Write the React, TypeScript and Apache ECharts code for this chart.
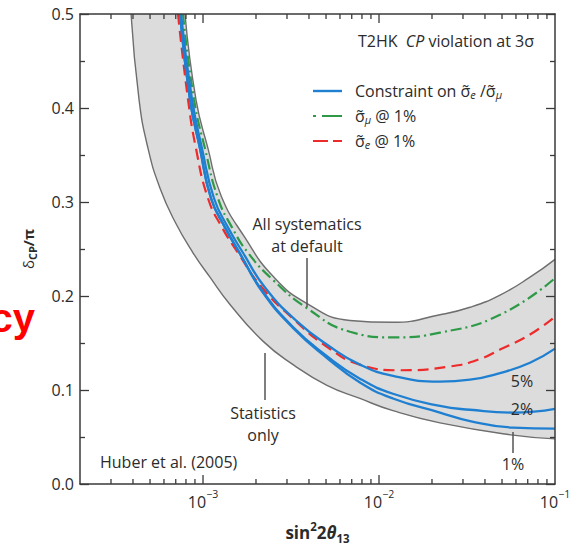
import React, { useEffect, useRef } from 'react';
import * as echarts from 'echarts';

const FONT = '"Open Sans", "Noto Sans", sans-serif';
const TXT = '#2b2b2b';
const AX = '#3a3a3a';
const BLUE = '#1f7fd0';
const GREEN = '#2e9a48';
const RED = '#ee2b2b';
const SMOOTH = 0.5;

// "Statistics only" (lower edge of gray band)
const statsX = [3.9e-4, 4.33e-4, 4.87e-4, 5.69e-4, 6.93e-4, 8.77e-4, 1.095e-3, 1.423e-3, 2.19e-3, 3.25e-3, 5.06e-3, 7.79e-3, 1.2e-2, 2.22e-2, 5.77e-2, 0.1];
const statsY = [0.5, 0.409, 0.357, 0.315, 0.279, 0.246, 0.220, 0.191, 0.152, 0.127, 0.105, 0.091, 0.078, 0.065, 0.052, 0.048];

// "All systematics at default" (upper edge of gray band)
const sysX = [7.9e-4, 9.12e-4, 1.067e-3, 1.265e-3, 1.732e-3, 2.5e-3, 3.9e-3, 6.84e-3, 1.2e-2, 2.22e-2, 3.29e-2, 4.87e-2, 7.21e-2, 0.1];
const sysY = [0.5, 0.409, 0.357, 0.307, 0.262, 0.221, 0.192, 0.174, 0.172, 0.180, 0.188, 0.201, 0.220, 0.239];

// sigma_mu @ 1%
const greenX = [7.69e-4, 8.89e-4, 1.026e-3, 1.216e-3, 1.461e-3, 1.801e-3, 2.5e-3, 3.9e-3, 6.84e-3, 1.2e-2, 2.22e-2, 4.87e-2, 0.1];
const greenY = [0.5, 0.409, 0.357, 0.304, 0.273, 0.246, 0.217, 0.187, 0.162, 0.156, 0.161, 0.180, 0.219];

// sigma_e @ 1%
const redX = [7.21e-4, 8.22e-4, 9.12e-4, 1.067e-3, 1.282e-3, 1.58e-3, 2.163e-3, 3.245e-3, 5.063e-3, 7.79e-3, 1.316e-2, 2.531e-2, 3.748e-2, 4.868e-2, 7.21e-2, 0.1];
const redY = [0.5, 0.409, 0.357, 0.304, 0.273, 0.246, 0.209, 0.176, 0.146, 0.127, 0.121, 0.125, 0.133, 0.143, 0.159, 0.178];

// Constraint on sigma_e/sigma_mu: 5%, 2%, 1%
const b5X = [7.5e-4, 8.66e-4, 9.87e-4, 1.154e-3, 1.386e-3, 1.687e-3, 2.25e-3, 3.42e-3, 5.27e-3, 7.79e-3, 1.2e-2, 2.22e-2, 3.29e-2, 4.87e-2, 7.21e-2, 0.1];
const b5Y = [0.5, 0.409, 0.357, 0.304, 0.273, 0.246, 0.209, 0.173, 0.146, 0.127, 0.115, 0.109, 0.111, 0.118, 0.129, 0.144];

const b2X = [7.4e-4, 8.43e-4, 9.61e-4, 1.11e-3, 1.333e-3, 1.622e-3, 2.163e-3, 3.245e-3, 5.063e-3, 7.79e-3, 1.2e-2, 2.22e-2, 3.29e-2, 5.77e-2, 0.1];
const b2Y = [0.5, 0.409, 0.357, 0.304, 0.273, 0.245, 0.206, 0.167, 0.136, 0.112, 0.096, 0.083, 0.079, 0.076, 0.080];

const b1X = [7.4e-4, 8.43e-4, 9.61e-4, 1.11e-3, 1.333e-3, 1.622e-3, 2.163e-3, 3.245e-3, 5.063e-3, 7.79e-3, 1.2e-2, 2.22e-2, 3.29e-2, 5.77e-2, 0.1];
const b1Y = [0.5, 0.409, 0.357, 0.304, 0.273, 0.245, 0.205, 0.166, 0.134, 0.108, 0.091, 0.076, 0.067, 0.060, 0.059];

// axis ticks
const xMinorTicks = [3e-4, 4e-4, 5e-4, 6e-4, 7e-4, 8e-4, 9e-4, 2e-3, 3e-3, 4e-3, 5e-3, 6e-3, 7e-3, 8e-3, 9e-3, 2e-2, 3e-2, 4e-2, 5e-2, 6e-2, 7e-2, 8e-2, 9e-2];
const xMajorTicks = [1e-3, 1e-2];
const xMin = 2e-4;
const xMax = 0.1;
const yMin = 0;
const yMax = 0.5;
const yStep = 0.1;

const zip = (xs: number[], ys: number[]) => xs.map((x, i) => [x, ys[i]]);

const tickSeries = (vals: number[], len: number) => ({
  type: 'custom',
  silent: true,
  z: 12,
  clip: false,
  data: vals.map((v) => [v, 0]),
  renderItem: (_p: any, api: any) => {
    const v = api.value(0);
    const b = api.coord([v, yMin]);
    const t = api.coord([v, yMax]);
    const style = { stroke: AX, lineWidth: 1.3 };
    return {
      type: 'group',
      children: [
        { type: 'line', shape: { x1: b[0], y1: b[1], x2: b[0], y2: b[1] - len }, style },
        { type: 'line', shape: { x1: t[0], y1: t[1], x2: t[0], y2: t[1] + len }, style },
      ],
    };
  },
});

const curve = (name: string, xs: number[], ys: number[], color: string, width: number, type: any) => ({
  type: 'line',
  name,
  data: zip(xs, ys),
  smooth: SMOOTH,
  symbol: 'none',
  showSymbol: false,
  silent: true,
  z: 5,
  lineStyle: { color, width, type, cap: 'butt' },
  emphasis: { disabled: true },
});

const supRich = {
  b: { fontFamily: FONT, fontSize: 16, lineHeight: 22, verticalAlign: 'bottom', color: TXT },
  sup: { fontFamily: FONT, fontSize: 10.5, lineHeight: 12, verticalAlign: 'top', color: TXT },
};

const textRich = {
  s: { fontFamily: FONT, fontSize: 16, lineHeight: 18, fill: TXT, color: TXT },
  sub: { fontFamily: FONT, fontSize: 11, fontStyle: 'italic', lineHeight: 11, verticalAlign: 'bottom', fill: TXT, color: TXT },
  i: { fontFamily: FONT, fontSize: 16, fontStyle: 'italic', lineHeight: 18, fill: TXT, color: TXT },
};

const label = (x: number, y: number, text: string, align = 'center', size = 16, lh = 18) => ({
  type: 'text',
  x,
  y,
  z: 30,
  silent: true,
  style: {
    text,
    fill: TXT,
    font: `${size}px ${FONT}`,
    align,
    verticalAlign: 'middle',
    lineHeight: lh,
    rich: textRich,
  },
});

const vline = (x: number, y1: number, y2: number) => ({
  type: 'line',
  z: 30,
  silent: true,
  shape: { x1: x, y1, x2: x, y2 },
  style: { stroke: '#555', lineWidth: 1.5 },
});

export default function App() {
  const ref = useRef<HTMLDivElement>(null);
  useEffect(() => {
    const chart = echarts.init(ref.current!, null, { renderer: 'svg' });
    const option: any = {
      animation: false,
      backgroundColor: '#ffffff',
      textStyle: { fontFamily: FONT },
      grid: { left: 80, right: 23, top: 14, bottom: 60, show: false },
      xAxis: [
        {
          type: 'log',
          logBase: 10,
          min: xMin,
          max: xMax,
          z: 10,
          axisLine: { show: true, onZero: false, lineStyle: { color: AX, width: 1.5 } },
          axisTick: { show: false },
          splitLine: { show: false },
          axisLabel: {
            margin: 4,
            showMinLabel: true,
            showMaxLabel: true,
            formatter: (v: number) => {
              const e = Math.log10(v);
              const r = Math.round(e);
              if (Math.abs(e - r) > 1e-6) return '';
              return `{b|10}{sup|${r < 0 ? '−' + -r : r}}`;
            },
            rich: supRich,
          },
          name: '{b|sin}{sup|2}{b|2}{i|θ}{sub|13}',
          nameLocation: 'middle',
          nameGap: 36,
          nameTextStyle: {
            rich: {
              b: { fontFamily: FONT, fontSize: 17, fontWeight: 'bold', lineHeight: 24, verticalAlign: 'middle', color: TXT },
              i: { fontFamily: FONT, fontSize: 17, fontWeight: 'bold', fontStyle: 'italic', lineHeight: 24, verticalAlign: 'middle', color: TXT },
              sup: { fontFamily: FONT, fontSize: 11.5, fontWeight: 'bold', lineHeight: 14, verticalAlign: 'top', color: TXT },
              sub: { fontFamily: FONT, fontSize: 11.5, fontWeight: 'bold', lineHeight: 14, verticalAlign: 'bottom', color: TXT },
            },
          },
        },
        {
          type: 'log',
          logBase: 10,
          min: xMin,
          max: xMax,
          position: 'top',
          z: 10,
          axisLine: { show: true, onZero: false, lineStyle: { color: AX, width: 1.5 } },
          axisTick: { show: false },
          axisLabel: { show: false },
          splitLine: { show: false },
        },
      ],
      yAxis: [
        {
          type: 'value',
          min: yMin,
          max: yMax,
          interval: yStep,
          z: 10,
          axisLine: { show: true, onZero: false, lineStyle: { color: AX, width: 1.5 } },
          axisTick: { show: true, inside: true, length: 9, lineStyle: { color: AX, width: 1.3 } },
          minorTick: { show: true, splitNumber: 2, length: 5, lineStyle: { color: AX, width: 1.3 } },
          splitLine: { show: false },
          axisLabel: {
            margin: 6,
            color: TXT,
            fontSize: 16,
            fontFamily: FONT,
            formatter: (v: number) => v.toFixed(1),
          },
          name: '{d|δ}{sub|CP}{b|/π}',
          nameLocation: 'middle',
          nameRotate: 90,
          nameGap: 42,
          nameTextStyle: {
            rich: {
              d: { fontFamily: FONT, fontSize: 15, lineHeight: 20, verticalAlign: 'middle', color: TXT },
              b: { fontFamily: FONT, fontSize: 15, fontWeight: 'bold', lineHeight: 20, verticalAlign: 'middle', color: TXT },
              sub: { fontFamily: FONT, fontSize: 11, fontWeight: 'bold', lineHeight: 12, verticalAlign: 'bottom', color: TXT },
            },
          },
        },
        {
          type: 'value',
          min: yMin,
          max: yMax,
          interval: yStep,
          position: 'right',
          z: 10,
          axisLine: { show: true, onZero: false, lineStyle: { color: AX, width: 1.5 } },
          axisTick: { show: true, inside: true, length: 9, lineStyle: { color: AX, width: 1.3 } },
          minorTick: { show: true, splitNumber: 2, length: 5, lineStyle: { color: AX, width: 1.3 } },
          splitLine: { show: false },
          axisLabel: { show: false },
        },
      ],
      series: [
        {
          type: 'line',
          name: 'Statistics only',
          data: zip(statsX, statsY),
          smooth: SMOOTH,
          symbol: 'none',
          silent: true,
          z: 2,
          lineStyle: { color: '#6e6e6e', width: 1.4 },
          areaStyle: { color: '#dcdcdc', opacity: 1, origin: 'end' },
        },
        {
          type: 'line',
          name: 'All systematics at default',
          data: zip(sysX, sysY),
          smooth: SMOOTH,
          symbol: 'none',
          silent: true,
          z: 3,
          lineStyle: { color: '#6e6e6e', width: 1.4 },
          areaStyle: { color: '#ffffff', opacity: 1, origin: 'end' },
        },
        curve('σμ @ 1%', greenX, greenY, GREEN, 2.2, [11, 4, 2, 4]),
        curve('σe @ 1%', redX, redY, RED, 2.2, [11, 6]),
        curve('Constraint 5%', b5X, b5Y, BLUE, 2.3, 'solid'),
        curve('Constraint 2%', b2X, b2Y, BLUE, 2.3, 'solid'),
        curve('Constraint 1%', b1X, b1Y, BLUE, 2.3, 'solid'),
        tickSeries(xMinorTicks, 5),
        tickSeries(xMajorTicks, 9),
      ],
      graphic: [
        {
          type: 'text',
          x: 35,
          y: 318,
          z: 30,
          silent: true,
          style: { text: 'cy', fill: '#ff0000', font: 'bold 40px "Liberation Sans", Arial, sans-serif', align: 'right', verticalAlign: 'middle' },
        },
        {
          type: 'text',
          x: 446,
          y: 41,
          z: 30,
          silent: true,
          style: {
            text: 'T2HK  {i|CP} violation at 3σ',
            fill: TXT,
            font: `16px ${FONT}`,
            align: 'center',
            verticalAlign: 'middle',
            lineHeight: 18,
            rich: textRich,
          },
        },
        { type: 'line', z: 30, silent: true, shape: { x1: 313, y1: 91, x2: 342, y2: 91 }, style: { stroke: BLUE, lineWidth: 2.4 } },
        { type: 'line', z: 30, silent: true, shape: { x1: 313, y1: 116, x2: 342, y2: 116 }, style: { stroke: GREEN, lineWidth: 2.2, lineDash: [3, 6, 20, 6] } },
        { type: 'line', z: 30, silent: true, shape: { x1: 313, y1: 141, x2: 342, y2: 141 }, style: { stroke: RED, lineWidth: 2.2, lineDash: [15, 5] } },
        label(355, 91, 'Constraint on {s|σ̃}{sub|e} /{s|σ̃}{sub|μ}', 'left'),
        label(355, 116, '{s|σ̃}{sub|μ} @ 1%', 'left'),
        label(355, 141, '{s|σ̃}{sub|e} @ 1%', 'left'),
        label(307, 224, 'All systematics'),
        label(307, 246, 'at default'),
        vline(307, 258, 307),
        label(263, 413, 'Statistics'),
        label(263, 435, 'only'),
        vline(265, 353, 400),
        label(100, 462, 'Huber et al. (2005)', 'left'),
        label(522, 381, '5%'),
        label(522, 409, '2%'),
        label(513, 464, '1%'),
        vline(513, 432, 453),
      ],
    };
    chart.setOption(option);
    return () => chart.dispose();
  }, []);
  return (
    <div
      ref={ref}
      style={{ position: 'fixed', left: 0, top: 0, width: 578, height: 549, background: '#fff' }}
    />
  );
}
